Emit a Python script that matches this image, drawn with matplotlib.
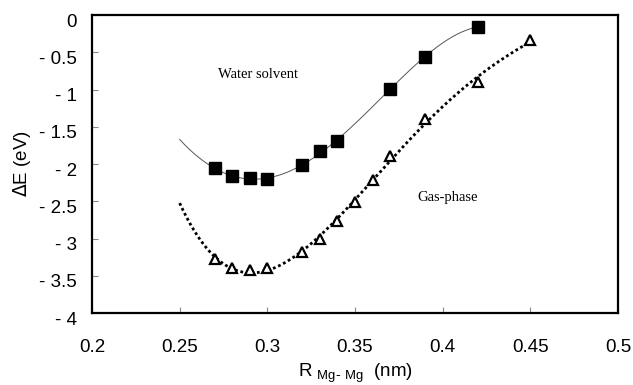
import numpy as np
import matplotlib
matplotlib.use("Agg")
from matplotlib import pyplot as plt
from matplotlib.transforms import ScaledTranslation

# data
r_water = [0.27, 0.28, 0.29, 0.30, 0.32, 0.33, 0.34, 0.37, 0.39, 0.42]
e_water = [-2.06, -2.16, -2.19, -2.20, -2.02, -1.83, -1.69, -0.99, -0.56, -0.16]
r_gas = [0.27, 0.28, 0.29, 0.30, 0.32, 0.33, 0.34, 0.35, 0.36, 0.37, 0.39, 0.42, 0.45]
e_gas = [-3.28, -3.39, -3.42, -3.40, -3.18, -3.00, -2.77, -2.51, -2.22, -1.89, -1.40, -0.90, -0.34]
xticks = [0.2, 0.25, 0.3, 0.35, 0.4, 0.45, 0.5]
yticks = [0, -0.5, -1, -1.5, -2, -2.5, -3, -3.5, -4]

plt.rcParams['font.family'] = ['Liberation Sans', 'DejaVu Sans']

fig = plt.figure(figsize=(6.33, 3.85), dpi=100)
ax = fig.add_axes([0.1453, 0.187, 0.831, 0.774])

# polynomial trend lines, extended back to 0.25
pw = np.polyfit(r_water, e_water, 4)
xw = np.linspace(0.25, 0.42, 200)
ax.plot(xw, np.polyval(pw, xw), color="#555555", lw=0.7)
pg = np.polyfit(r_gas, e_gas, 4)
xg = np.linspace(0.25, 0.45, 200)
ax.plot(xg, np.polyval(pg, xg), color="black", lw=2, linestyle=(0, (1, 1)))

ax.plot(r_water, e_water, "s", color="black", ms=8, ls="none")
ax.plot(r_gas, e_gas, "^", mfc="white", mec="black", mew=1.6, ms=6.5, ls="none")

ax.text(0.2946, -0.8, "Water solvent", family="Liberation Serif", fontsize=10.5,
        ha="center", va="center")
ax.text(0.403, -2.45, "Gas-phase", family="Liberation Serif", fontsize=10.5,
        ha="center", va="center")

ax.set_xlim(0.2, 0.5)
ax.set_ylim(-4, 0)
ax.set_xticks(xticks)
ax.set_xticklabels([f"{t:g}" for t in xticks])
ax.set_yticks(yticks)
ax.set_yticklabels(["0" if t == 0 else "- " + f"{-t:g}" for t in yticks])
ax.tick_params(direction="in", length=4, width=0.8, labelsize=13.5, color="#888888")
ax.tick_params(axis="x", pad=19)
ax.tick_params(axis="y", pad=11)
# y labels sit a little below their ticks in the original
shift = ScaledTranslation(0, -5 / 100, fig.dpi_scale_trans)
for lab in ax.get_yticklabels():
    lab.set_transform(lab.get_transform() + shift)
for s in ax.spines.values():
    s.set_linewidth(1.6)

ax.set_xlabel(r"R $_{\mathregular{Mg\text{-}\ Mg}}$  (nm)", fontsize=13.5, labelpad=4)
ax.set_ylabel(r"$\Delta$E (eV)", fontsize=13.5, labelpad=4)

fig.savefig("out.png", dpi=100)
